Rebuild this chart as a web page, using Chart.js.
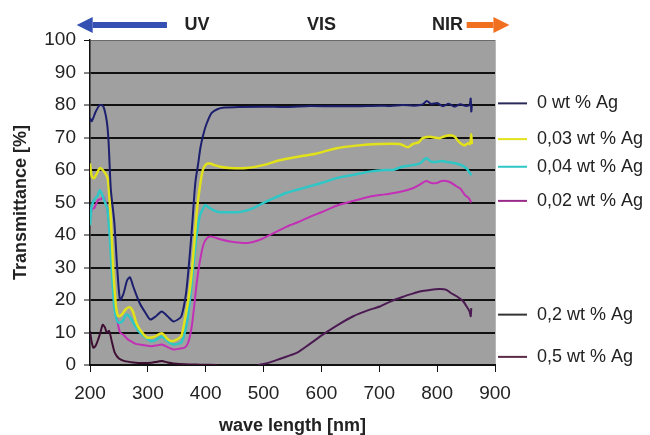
<!DOCTYPE html>
<html>
<head>
<meta charset="utf-8">
<script src="https://cdn.jsdelivr.net/npm/chart.js@4.4.1/dist/chart.umd.min.js"></script>
<style>
  body { margin: 0; background: #fff; }
</style>
</head>
<body>
<canvas id="myChart" width="650" height="435"></canvas>
<script>
const wl0 = [200, 203, 210, 217, 223, 229, 232, 236, 242, 247, 252, 258, 264, 269, 275, 286, 296, 304, 314, 324, 334, 344, 352, 358, 366, 372, 377, 382, 387, 391, 396, 401, 410, 420, 432, 460, 500, 540, 580, 620, 660, 700, 720, 740, 760, 775, 782, 790, 800, 810, 820, 830, 840, 850, 856, 858, 859, 860];
const t0 = [76, 75, 78, 80, 79.6, 75, 69, 54, 44, 30, 20, 22, 26, 27, 24, 19, 16, 14, 15, 16.5, 15, 13.4, 14, 15, 22, 33, 44, 56, 62, 67, 71, 74, 77.5, 78.7, 79.2, 79.4, 79.5, 79.4, 79.7, 79.6, 79.6, 79.8, 79.7, 80, 79.8, 80.2, 81.2, 80.3, 80.6, 79.6, 80.4, 79.5, 80.2, 79.7, 80, 82, 78, 80];

const wl003 = [200, 203, 207, 212, 217, 222, 228, 231, 236, 240, 245, 249, 255, 261, 268, 274, 280, 286, 298, 310, 324, 334, 341, 350, 358, 364, 370, 375, 380, 385, 390, 395, 401, 407, 415, 425, 442, 470, 499, 528, 557, 590, 626, 660, 700, 735, 750, 758, 768, 775, 787, 795, 804, 812, 822, 830, 836, 842, 848, 853, 857, 859, 860];
const t003 = [62, 58, 57.5, 59, 60.6, 60, 58.5, 57, 45, 30, 18, 15, 15.5, 17, 17.8, 16.5, 13, 11, 8.5, 8.6, 9.8, 8, 7.3, 7.8, 9, 14, 20, 27, 37, 48, 55, 60, 61.8, 62, 61.5, 61, 60.6, 60.6, 61.5, 63, 64, 65, 66.7, 67.5, 68, 68, 67, 68, 68.5, 69.8, 70.2, 70, 69.8, 70.3, 70.7, 70.3, 69, 68, 67.6, 68.2, 68, 71, 68];

const wl004 = [200, 203, 208, 213, 217, 222, 226, 230, 234, 238, 242, 246, 250, 256, 263, 270, 278, 286, 296, 306, 315, 324, 333, 344, 352, 358, 364, 370, 375, 380, 385, 390, 395, 399, 405, 415, 425, 440, 455, 470, 485, 499, 520, 540, 560, 580, 600, 626, 655, 683, 710, 723, 740, 758, 770, 781, 790, 799, 808, 816, 825, 833, 842, 850, 855, 859];
const t004 = [43, 49, 51, 52, 53.8, 52, 50, 48, 40, 28, 18, 14, 13, 13.5, 15.5, 14.5, 12, 10, 8.5, 7.3, 7.8, 8.8, 7.5, 6.3, 6.5, 7, 10, 16, 24, 33, 41, 46, 48, 49.2, 48.5, 47.5, 47, 47, 47, 47.5, 48.5, 49.8, 51.5, 53, 54, 55, 56, 57.5, 58.5, 59.5, 60, 60, 61, 61.5, 62, 63.6, 62.5, 62.5, 62.8, 62.5, 62.3, 62, 61.5, 60.6, 59.5, 58.4];

const wl002 = [200, 203, 208, 214, 219, 223, 226, 229, 232, 236, 242, 247, 252, 257, 262, 266, 272, 279, 286, 296, 306, 315, 324, 334, 344, 354, 364, 370, 376, 380, 385, 390, 396, 402, 410, 425, 442, 460, 475, 490, 505, 520, 540, 560, 580, 600, 626, 655, 683, 710, 735, 758, 770, 781, 790, 799, 808, 816, 825, 833, 840, 848, 854, 859];
const t002 = [45, 47.7, 48.5, 50.8, 51, 51.8, 50.5, 49, 45, 38, 22, 14, 10, 9.4, 8.5, 7.8, 7.2, 6.5, 6.3, 6, 5.8, 6, 6.3, 5.5, 4.8, 5, 5.4, 7, 12, 18, 26, 32, 37, 39, 39.5, 38.7, 38, 37.6, 37.6, 38.3, 39.5, 40.8, 42.6, 44, 45.6, 47, 49, 50.5, 51.8, 52.5, 53.2, 54.4, 55.5, 56.6, 56, 56, 56.6, 56.6, 56, 55, 54.3, 52.3, 51.5, 50];

const wl02 = [490, 500, 511, 530, 557, 580, 603, 630, 655, 680, 701, 720, 741, 755, 770, 785, 797, 805, 815, 825, 835, 845, 851, 856, 858, 859];
const t02 = [0, 0.3, 0.8, 2, 3.7, 6.5, 9.4, 12.5, 15, 16.8, 18, 19.6, 21, 21.8, 22.6, 23, 23.3, 23.4, 23.2, 22, 21, 19.6, 18, 16.5, 15, 17.5];

const wl05 = [200, 203, 206, 210, 214, 218, 222, 226, 229, 233, 238, 243, 250, 260, 275, 290, 306, 316, 324, 334, 344, 364, 390, 420];
const t05 = [10.4, 7, 5.3, 6, 7.8, 10, 12.4, 11.5, 9.9, 10.5, 7, 3.7, 2, 1.2, 0.8, 0.6, 0.7, 1, 1.2, 0.8, 0.5, 0.2, 0.1, 0];

const legendLabels = ["0 wt % Ag", "0,03 wt % Ag", "0,04 wt % Ag", "0,02 wt % Ag", "0,2 wt % Ag", "0,5 wt % Ag"];
const legendWerte = [80.5, 69.5, 61, 50.5, 15.5, 2.5]; // Hoehe der Legendeneintraege in %
const bereiche = ["UV", "VIS", "NIR"];
const bereichPos = [385, 600, 818];
const xTicks = [200, 300, 400, 500, 600, 700, 800, 900];
const yTicks = [0, 10, 20, 30, 40, 50, 60, 70, 80, 90, 100];

function punkte(xs, ys) {
  return xs.map((x, i) => ({ x: x, y: ys[i] }));
}

const farben = ["#1c1f6e", "#e2e21a", "#2fc6c6", "#c230b6", "#4b1a52", "#3e0f33"];
const legendFarben = ["#2a2a5a", "#e2e21a", "#2fc6c6", "#9a2a8a", "#333333", "#5a2a45"];
const reihen = [[wl0, t0], [wl003, t003], [wl004, t004], [wl002, t002], [wl02, t02], [wl05, t05]];

const hintergrund = {
  id: "hintergrund",
  beforeDraw(chart) {
    const { ctx, chartArea: a } = chart;
    ctx.save();
    ctx.fillStyle = "#a0a0a0";
    ctx.fillRect(a.left, a.top, a.right - a.left, a.bottom - a.top);
    ctx.strokeStyle = "#b8b8b8";
    ctx.lineWidth = 1;
    ctx.beginPath();
    ctx.moveTo(a.right + 0.5, a.top);
    ctx.lineTo(a.right + 0.5, a.bottom);
    ctx.stroke();
    ctx.restore();
  },
};

function pfeil(ctx, x1, x2, y, farbe) {
  // Pfeil von x1 nach x2 (Spitze bei x2)
  const dir = x2 > x1 ? 1 : -1;
  const kopf = 16;
  ctx.fillStyle = farbe;
  ctx.fillRect(Math.min(x1, x2 - dir * kopf), y - 3, Math.abs(x2 - x1) - kopf, 6);
  ctx.beginPath();
  ctx.moveTo(x2, y);
  ctx.lineTo(x2 - dir * kopf, y - 8);
  ctx.lineTo(x2 - dir * kopf, y + 8);
  ctx.closePath();
  ctx.fill();
}

const beschriftung = {
  id: "beschriftung",
  afterDraw(chart) {
    const { ctx, chartArea: a, scales } = chart;
    ctx.save();
    // Legende rechts
    ctx.font = "18px 'Liberation Sans', Arial, sans-serif";
    ctx.textBaseline = "middle";
    ctx.textAlign = "left";
    legendLabels.forEach((txt, i) => {
      const y = scales.y.getPixelForValue(legendWerte[i]);
      ctx.strokeStyle = legendFarben[i];
      ctx.lineWidth = 2;
      ctx.beginPath();
      ctx.moveTo(a.right + 3, y);
      ctx.lineTo(a.right + 32, y);
      ctx.stroke();
      ctx.fillStyle = "#222";
      ctx.fillText(txt, a.right + 42, y);
    });
    // UV / VIS / NIR oben
    ctx.font = "bold 18px 'Liberation Sans', Arial, sans-serif";
    ctx.textAlign = "center";
    bereiche.forEach((b, i) => {
      ctx.fillStyle = "#222";
      ctx.fillText(b, scales.x.getPixelForValue(bereichPos[i]), 25);
    });
    pfeil(ctx, scales.x.getPixelForValue(333), scales.x.getPixelForValue(177), 25, "#3450b2");
    pfeil(ctx, scales.x.getPixelForValue(851), scales.x.getPixelForValue(925), 25, "#f07020");
    ctx.restore();
  },
};

const lineChart = document.getElementById("myChart");

let myChart = new Chart(lineChart, {
  type: "line",
  data: {
    datasets: reihen.map((r, i) => ({
      label: legendLabels[i],
      data: punkte(r[0], r[1]),
      borderColor: farben[i],
      borderWidth: i == 1 || i == 2 ? 2.5 : 2,
      pointRadius: 0,
      tension: 0.25,
      fill: false,
    })),
  },
  options: {
    responsive: false,
    animation: false,
    devicePixelRatio: 1,
    layout: { padding: { left: 0, right: 155, top: 40, bottom: 0 } },
    plugins: { legend: { display: false }, tooltip: { enabled: false } },
    scales: {
      x: {
        type: "linear",
        min: 200,
        max: 900,
        afterFit: (s) => { s.height = 70; },
        afterBuildTicks: (s) => { s.ticks = xTicks.map((v) => ({ value: v })); },
        grid: { drawOnChartArea: false, drawTicks: true, tickLength: 7, color: "#111", tickWidth: 1 },
        border: { color: "#111", width: 2 },
        ticks: { color: "#222", padding: 10, font: { family: "'Liberation Sans', Arial", size: 19 } },
        title: {
          display: true,
          text: "wave length [nm]",
          color: "#222",
          padding: { top: 0, bottom: -2 },
          font: { family: "'Liberation Sans', Arial", size: 18, weight: "bold" },
        },
      },
      y: {
        min: 0,
        max: 100,
        afterFit: (s) => { s.width = 90; },
        afterBuildTicks: (s) => { s.ticks = yTicks.map((v) => ({ value: v })); },
        grid: {
          color: (c) => (c.tick && c.tick.value === 100 ? "#6a6a6a" : "#111"),
          lineWidth: (c) => (c.tick && c.tick.value === 100 ? 1 : 2),
          tickLength: 6,
          tickWidth: 1,
          tickColor: "#111",
        },
        border: { color: "#111", width: 1.5 },
        ticks: { color: "#222", padding: 8, font: { family: "'Liberation Sans', Arial", size: 19 } },
        title: {
          display: true,
          text: "Transmittance [%]",
          color: "#222",
          padding: { top: 10, bottom: 0 },
          font: { family: "'Liberation Sans', Arial", size: 18, weight: "bold" },
        },
      },
    },
  },
  plugins: [hintergrund, beschriftung],
});
</script>
</body>
</html>
